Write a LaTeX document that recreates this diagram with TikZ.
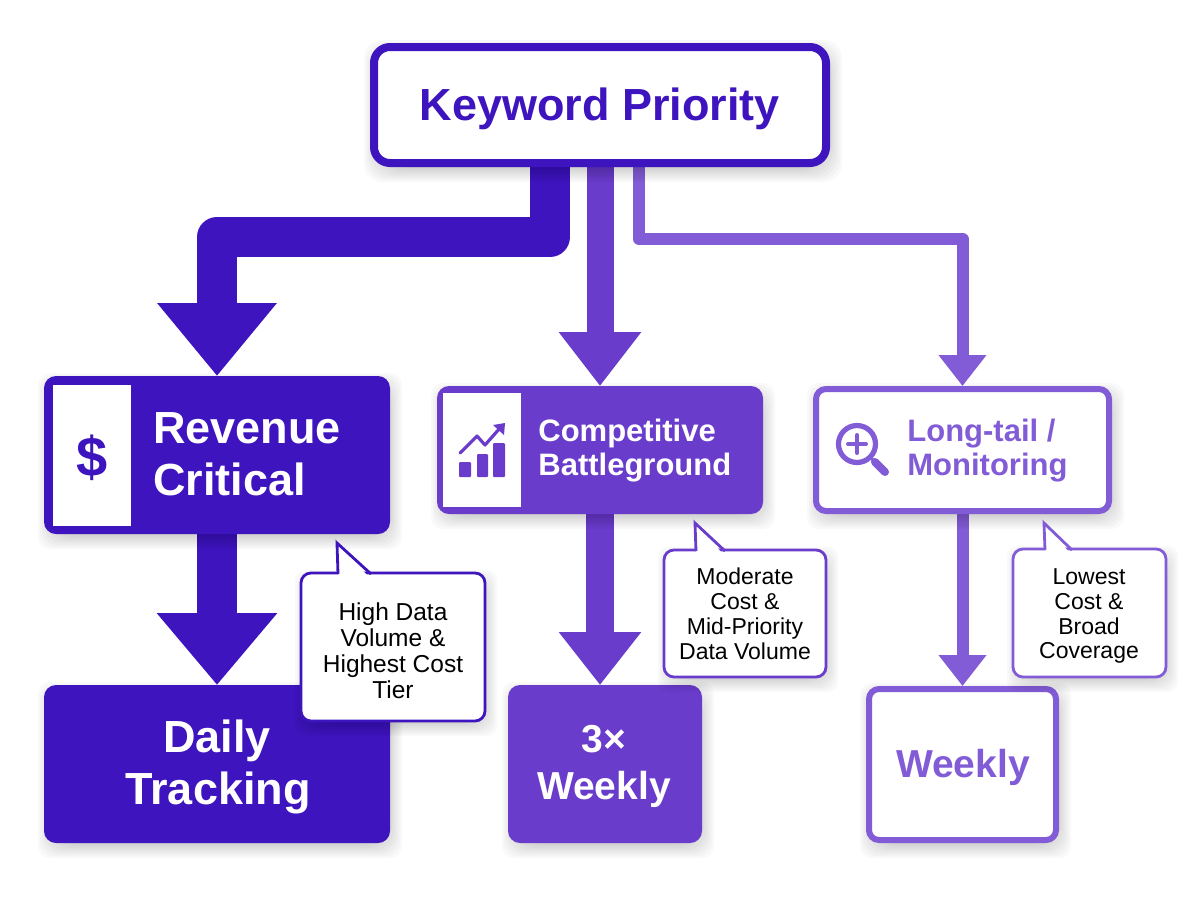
\documentclass[tikz,border=0pt]{standalone}
\usepackage{fontspec}
\setmainfont{Liberation Sans}
\usetikzlibrary{arrows.meta}
\definecolor{cdark}{HTML}{3E14BE}
\definecolor{cmid}{HTML}{6A3CCB}
\definecolor{clight}{HTML}{825CD6}
\pgfdeclarelayer{arrowlayer}
\pgfdeclarelayer{shadowlayer}
\pgfsetlayers{arrowlayer,shadowlayer,main}
% sizes are given in reference pixels (1 px = 0.5 pt)
\newcommand{\pxfont}[1]{\fontsize{\dimexpr#1pt/2\relax}{\dimexpr#1pt/2\relax}\selectfont}
\newcommand{\softrects}[5]{% x1 y1 x2 y2 radius
  \foreach \g in {0,2,...,14}{
    \fill[black,opacity=0.022,rounded corners=#5pt+\g*0.5pt]
      (#1+3-9+\g,#2+6-9+\g) rectangle (#3+3+9-\g,#4+6+9-\g);
  }}
\newcommand{\softshadow}[5]{%
  \begin{pgfonlayer}{shadowlayer}\softrects{#1}{#2}{#3}{#4}{#5}\end{pgfonlayer}}
\tikzset{
  x=0.5pt,y=-0.5pt,
  boxbase/.style={rectangle,outer sep=0pt,inner sep=0pt},
  filledbox/.style={boxbase,fill=#1,rounded corners=6pt},
  linedbox/.style={boxbase,outer sep=1.5pt,draw=#1,line width=3pt,fill=white,rounded corners=5pt},
  headtext/.style={anchor=base west,inner sep=0pt,font=\bfseries\pxfont{31}},
  bigtext/.style={anchor=base,inner sep=0pt,font=\bfseries\pxfont{45}},
  notetext/.style={anchor=base,inner sep=0pt,text=black,font=\pxfont{23}},
  flow/.style={draw=#1,line join=round},
  noteframe/.style={boxbase,draw=#1,fill=white,line width=1.4pt,rounded corners=5pt},
  notetail/.style={draw=#1,line width=1.4pt,line join=miter},
  iconcell/.style={boxbase,fill=white},
}
\begin{document}
\begin{tikzpicture}
\useasboundingbox (0,0) rectangle (1200,896);
\begin{pgfonlayer}{arrowlayer}
\fill[white] (0,0) rectangle (1200,896);
\end{pgfonlayer}

% boxes
\softshadow{370}{43}{830}{167}{9}
\softshadow{44}{376}{390}{534}{6}
\softshadow{437}{386}{763}{514}{6}
\softshadow{813}{386}{1112}{514}{6}
\softshadow{44}{685}{390}{843}{6}
\softshadow{508}{685}{702}{843}{6}
\softshadow{866}{686}{1059}{843}{6}

\node[linedbox=cdark,outer sep=2pt,line width=4pt,rounded corners=8pt,minimum width=226pt,minimum height=58pt] (root) at (600,105) {};
\node[anchor=base,inner sep=0pt,text=cdark,font=\bfseries\pxfont{45}] (roottext) at (600,120) {Keyword Priority};

\node[filledbox=cdark,minimum width=173pt,minimum height=79pt] (rev) at (217,455) {};
\node[iconcell,minimum width=39pt,minimum height=70.5pt] (revcell) at (92,455.5) {};
\node[inner sep=0pt,text=cdark,font=\bfseries\pxfont{56}] (revicon) at (92,458) {\$};
\node[headtext,text=white,font=\bfseries\pxfont{45}] (revtexta) at (153,443) {Revenue};
\node[headtext,text=white,font=\bfseries\pxfont{45}] (revtextb) at (153,495) {Critical};

\node[filledbox=cmid,minimum width=163pt,minimum height=64pt] (comp) at (600,450) {};
\node[iconcell,minimum width=39pt,minimum height=57pt] (compcell) at (482,450) {};
\fill[cmid,rounded corners=0.5pt] (459,462) rectangle (471,477);
\fill[cmid,rounded corners=0.5pt] (477,454) rectangle (488,477);
\fill[cmid,rounded corners=0.5pt] (493,443) rectangle (505,477);
\draw[cmid,line width=1.6pt,line join=round,line cap=round] (460,453) -- (477,436) -- (485,445) -- (500,428);
\fill[cmid] (493,425) -- (505,423) -- (504,435) -- cycle;
\node[headtext,text=white] (comptexta) at (538,441) {Competitive};
\node[headtext,text=white] (comptextb) at (538,475) {Battleground};

\node[linedbox=clight,minimum width=146.5pt,minimum height=61pt] (long) at (962.5,450) {};
\draw[clight,line width=2.6pt] (857,444) circle[radius=18.5];
\draw[clight,line width=2pt,line cap=round] (848,444) -- (866,444) (857,435) -- (857,453);
\draw[clight,line width=1.5pt] (870,457) -- (875,462);
\draw[clight,line width=4pt,line cap=round] (875,462) -- (885,472);
\node[headtext,text=clight] (longtexta) at (907,441) {Long-tail /};
\node[headtext,text=clight] (longtextb) at (907,475) {Monitoring};

\node[filledbox=cdark,minimum width=173pt,minimum height=79pt] (daily) at (217,764) {};
\node[bigtext,text=white] (dailytexta) at (217,752) {Daily};
\node[bigtext,text=white] (dailytextb) at (218,804) {Tracking};

\node[filledbox=cmid,minimum width=97pt,minimum height=79pt] (thrice) at (605,764) {};
\node[bigtext,text=white,font=\bfseries\pxfont{39}] (thricetexta) at (604,752) {3×};
\node[bigtext,text=white,font=\bfseries\pxfont{39}] (thricetextb) at (604,799) {Weekly};

\node[linedbox=clight,minimum width=93.5pt,minimum height=75.5pt] (weekly) at (962.5,764.5) {};
\node[bigtext,text=clight,font=\bfseries\pxfont{39}] (weeklytext) at (963,777) {Weekly};

% connectors
\coordinate (bendA) at (550,237);
\coordinate (bendC) at (639,239);
\begin{pgfonlayer}{arrowlayer}
\draw[flow=cdark,line width=20pt,-{Triangle[width=57.5pt,length=36.5pt]}]
  (root.south -| bendA) -- (bendA) -- (bendA -| rev.north) -- (rev.north);
\draw[flow=cmid,line width=13.5pt,-{Triangle[width=39.5pt,length=27pt]}]
  (root.south) -- (comp.north);
\draw[flow=clight,line width=6pt,-{Triangle[width=23pt,length=15.5pt]}]
  (root.south -| bendC) -- (bendC) -- (bendC -| long.north) -- (long.north);
\draw[flow=cdark,line width=20pt,-{Triangle[width=58pt,length=36pt]}]
  (rev.south) -- (daily.north);
\draw[flow=cmid,line width=14pt,-{Triangle[width=39.5pt,length=26.5pt]}]
  (comp.south) -- (comp.south |- thrice.north);
\draw[flow=clight,line width=6pt,-{Triangle[width=23pt,length=15.5pt]}]
  (long.south) -- (weekly.north);
\end{pgfonlayer}

% callouts
\softrects{301}{573}{485}{721}{5}
\node[noteframe=cdark,minimum width=92pt,minimum height=74pt] (notea) at (393,647) {};
\fill[white] (338.5,577) -- (338,545) -- (369,577) -- cycle;
\draw[notetail=cdark] (338,574) -- (337,543) -- (371,574);
\node[notetext,font=\pxfont{24.5}] (notea1) at (393,620) {High Data};
\node[notetext,font=\pxfont{24.5}] (notea2) at (393,646) {Volume \&};
\node[notetext,font=\pxfont{24.5}] (notea3) at (393,672) {Highest Cost};
\node[notetext,font=\pxfont{24.5}] (notea4) at (393,698) {Tier};

\softrects{664}{550}{826}{677}{5}
\node[noteframe=cmid,minimum width=81pt,minimum height=63.5pt] (noteb) at (745,613.5) {};
\fill[white] (696.5,554) -- (696,525) -- (723,554) -- cycle;
\draw[notetail=cmid] (696,551) -- (695,523) -- (725,551);
\node[notetext] (noteb1) at (745,584) {Moderate};
\node[notetext] (noteb2) at (745,609) {Cost \&};
\node[notetext] (noteb3) at (745,634) {Mid-Priority};
\node[notetext] (noteb4) at (745,659) {Data Volume};

\softrects{1013}{549}{1166}{677}{5}
\node[noteframe=clight,minimum width=76.5pt,minimum height=64pt] (notec) at (1089.5,613) {};
\fill[white] (1045.5,553) -- (1045,525) -- (1070,553) -- cycle;
\draw[notetail=clight] (1045,550) -- (1044,523) -- (1072,550);
\node[notetext] (notec1) at (1089,584) {Lowest};
\node[notetext] (notec2) at (1089,609) {Cost \&};
\node[notetext] (notec3) at (1089,634) {Broad};
\node[notetext] (notec4) at (1089,658) {Coverage};
\end{tikzpicture}
\end{document}
